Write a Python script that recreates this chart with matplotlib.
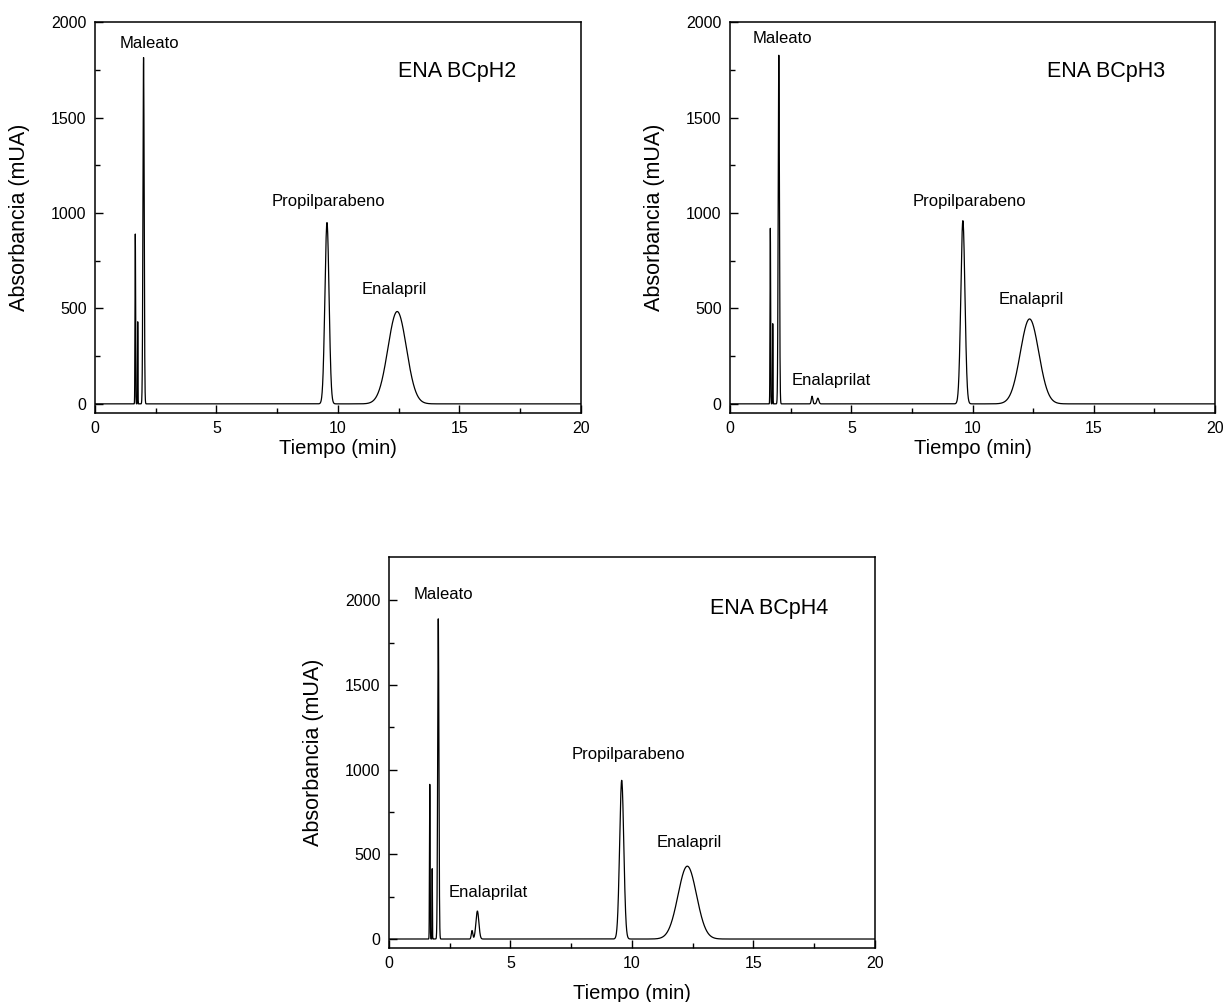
import matplotlib
matplotlib.use("Agg")
import matplotlib.pyplot as plt
import numpy as np
from matplotlib.ticker import MultipleLocator, FixedLocator

plt.rcParams['font.family'] = ['Liberation Sans', 'DejaVu Sans']

# peak tables: retention time (min), height (mUA), sigma (min)
ph2_time = [1.66, 1.76, 2.00, 9.55, 12.44]
ph2_height = [890, 430, 1815, 950, 484]
ph2_sigma = [0.012, 0.008, 0.025, 0.085, 0.38]

ph3_time = [1.66, 1.76, 2.01, 3.38, 3.62, 9.60, 12.35]
ph3_height = [920, 420, 1827, 40, 30, 960, 445]
ph3_sigma = [0.012, 0.008, 0.025, 0.03, 0.04, 0.085, 0.38]

ph4_time = [1.68, 1.78, 2.03, 3.42, 3.64, 9.58, 12.28]
ph4_height = [913, 415, 1890, 50, 165, 937, 430]
ph4_sigma = [0.012, 0.008, 0.025, 0.03, 0.06, 0.085, 0.38]

# annotation labels: text, x (min), y (mUA)
ph2_labels = [("Maleato", 2.24, 1890), ("Propilparabeno", 9.63, 1060),
              ("Enalapril", 12.3, 597)]
ph3_labels = [("Maleato", 2.14, 1916), ("Propilparabeno", 9.86, 1063),
              ("Enalaprilat", 4.16, 120), ("Enalapril", 12.4, 545)]
ph4_labels = [("Maleato", 2.23, 2031), ("Propilparabeno", 9.87, 1088),
              ("Enalaprilat", 4.10, 277), ("Enalapril", 12.36, 568)]

t = np.arange(0, 20.0005, 0.005)


def trace(times, heights, sigmas):
    y = np.zeros_like(t)
    for c, h, s in zip(times, heights, sigmas):
        y += h * np.exp(-0.5 * ((t - c) / s) ** 2)
    return y


def panel(ax, times, heights, sigmas, labels, title, title_xy, ylim, xpad):
    ax.plot(t, trace(times, heights, sigmas), color='black', lw=0.9)
    ax.set_xlim(0, 20)
    ax.set_ylim(*ylim)
    ax.xaxis.set_major_locator(MultipleLocator(5))
    ax.xaxis.set_minor_locator(MultipleLocator(2.5))
    ax.yaxis.set_major_locator(FixedLocator([0, 500, 1000, 1500, 2000]))
    ax.yaxis.set_minor_locator(FixedLocator([250, 750, 1250, 1750]))
    ax.tick_params(which='both', direction='in', labelsize=11.5,
                   top=False, right=False, width=1)
    ax.tick_params(which='major', length=6, pad=6)
    ax.tick_params(which='minor', length=3.5)
    for sp in ax.spines.values():
        sp.set_linewidth(1.1)
    ax.set_xlabel("Tiempo (min)", fontsize=14.5, labelpad=xpad)
    ax.set_ylabel("Absorbancia (mUA)", fontsize=15.5, labelpad=15)
    for txt, x, y in labels:
        ax.text(x, y, txt, ha='center', va='center', fontsize=12)
    ax.text(title_xy[0], title_xy[1], title, ha='center', va='center',
            fontsize=15.5)


fig = plt.figure(figsize=(12.27, 10.02), dpi=100)
ax1 = fig.add_axes([0.0774, 0.5878, 0.396, 0.390])
ax2 = fig.add_axes([0.595, 0.5878, 0.3953, 0.390])
ax3 = fig.add_axes([0.317, 0.0539, 0.396, 0.390])

panel(ax1, ph2_time, ph2_height, ph2_sigma, ph2_labels, "ENA BCpH2",
      (14.9, 1743), (-48, 2000), 2)
panel(ax2, ph3_time, ph3_height, ph3_sigma, ph3_labels, "ENA BCpH3",
      (15.5, 1743), (-48, 2000), 2)
panel(ax3, ph4_time, ph4_height, ph4_sigma, ph4_labels, "ENA BCpH4",
      (15.64, 1953), (-53, 2254), 9)

fig.savefig("out.png", dpi=100)
